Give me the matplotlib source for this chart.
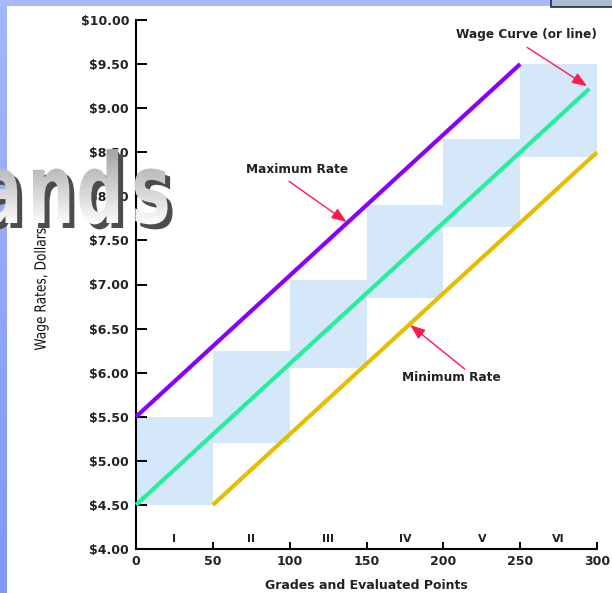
import numpy as np
import matplotlib
matplotlib.use('Agg')
import matplotlib.pyplot as plt
import matplotlib.patheffects as pe
from matplotlib.colors import to_rgba
from matplotlib.patches import Rectangle
from matplotlib.transforms import Affine2D, Bbox

# pay grades and the rate range of each grade
grade_labels = ['I', 'II', 'III', 'IV', 'V', 'VI']
grade_start = [0, 50, 100, 150, 200, 250]
grade_width = 50
range_low = [4.50, 5.20, 6.05, 6.85, 7.65, 8.45]
range_high = [5.50, 6.25, 7.05, 7.90, 8.65, 9.50]

# rate lines (points, dollars)
max_pts = [0, 250]
max_rate = [5.50, 9.50]
wage_pts = [0, 295]
wage_rate = [4.50, 9.22]
min_pts = [50, 300]
min_rate = [4.50, 8.50]

x_ticks = [0, 50, 100, 150, 200, 250, 300]
y_ticks = [4.0, 4.5, 5.0, 5.5, 6.0, 6.5, 7.0, 7.5, 8.0, 8.5, 9.0, 9.5, 10.0]


class Squeeze(pe.AbstractPathEffect):
    """Scale the glyphs about a pixel origin (no condensed font available),
    optionally filling them with a vertical grey ramp."""
    def __init__(self, sx, sy, origin, offset=(0, 0), face=None, shade=None):
        super().__init__()
        self.sx, self.sy = sx, sy
        self.origin = origin
        self.shift = offset
        self.face = to_rgba(face) if face is not None else None
        self.shade = shade

    def draw_path(self, renderer, gc, tpath, affine, rgbFace=None):
        x0, y0 = self.origin
        t = affine + Affine2D().translate(-x0, -y0).scale(self.sx, self.sy).translate(x0 + self.shift[0], y0 + self.shift[1])
        if self.shade is None:
            renderer.draw_path(gc, tpath, t, self.face if self.face is not None else rgbFace)
            return
        c_top, c_bot, y_top, y_bot = self.shade
        c_top, c_bot = np.array(to_rgba(c_top)), np.array(to_rgba(c_bot))
        n = 30
        edges = np.linspace(y_bot, y_top, n + 1)
        for i in range(n):
            lo = edges[i] if i > 0 else -1e4
            hi = edges[i+1] if i < n - 1 else 1e4
            f = (i + 0.5) / n
            g2 = renderer.new_gc()
            g2.copy_properties(gc)
            g2.set_clip_rectangle(Bbox([[-1e4, lo], [1e4, hi]]))
            renderer.draw_path(g2, tpath, t, tuple(c_bot + (c_top - c_bot) * f))
            g2.restore()


W, H = 612, 593
fig = plt.figure(figsize=(W/100, H/100), dpi=100)
fig.patch.set_facecolor('white')

# slide decoration: blue strips and the box in the corner
strip = fig.add_axes([0, 0, 7/W, 1])
strip.imshow(np.linspace(0, 1, 100).reshape(-1, 1),
             cmap=matplotlib.colors.LinearSegmentedColormap.from_list('s', ['#a4b6fc', '#7f97f6']),
             aspect='auto', extent=[0, 1, 0, 1])
strip.axis('off')
fig.patches.append(Rectangle((0, 1-6/H), 1, 6/H, transform=fig.transFigure, facecolor='#a8b9fc', edgecolor='none', zorder=0))
fig.patches.append(Rectangle((551/W, 1-7/H), 70/W, 10/H, transform=fig.transFigure, facecolor='#a9bfcf',
                             edgecolor='#1c2c4a', linewidth=1.2, zorder=1))

ax = fig.add_axes([136/W, 44/H, 461/W, 529/H])
ax.set_facecolor('none')

ax.bar(grade_start, np.array(range_high)-np.array(range_low), width=grade_width, bottom=range_low,
       align='edge', color='#d4e8fa', edgecolor='none', zorder=1)

ax.plot(max_pts, max_rate, color='#8a00ff', lw=3, solid_capstyle='butt', clip_on=False, zorder=3)
ax.plot(wage_pts, wage_rate, color='#26ee9a', lw=3, solid_capstyle='butt', clip_on=False, zorder=3)
ax.plot(min_pts, min_rate, color='#e6bd00', lw=3, solid_capstyle='butt', clip_on=False, zorder=3)

for x0, g in zip(grade_start, grade_labels):
    ax.text(x0 + grade_width/2, 4.11, g, ha='center', va='center', fontsize=8, fontweight='bold', color='#222222')

red = '#ff1a50'
aprops = dict(arrowstyle='-|>,head_length=0.9,head_width=0.35', color=red, lw=1, shrinkA=0, shrinkB=0)
note = dict(ha='center', va='center', fontsize=8.7, fontweight='bold', color='#222222')
ax.text(254, 9.83, 'Wage Curve (or line)', **note)
ax.annotate('', xy=(293.5, 9.25), xytext=(254.5, 9.69), arrowprops=aprops, annotation_clip=False)
ax.text(105, 8.31, 'Maximum Rate', **note)
ax.annotate('', xy=(137, 7.71), xytext=(99.6, 8.17), arrowprops=aprops)
ax.text(205, 5.94, 'Minimum Rate', **note)
ax.annotate('', xy=(178.5, 6.54), xytext=(214, 6.04), arrowprops=aprops)

ax.set_xlim(0, 300)
ax.set_ylim(4, 10)
ax.set_xticks(x_ticks)
ax.set_yticks(y_ticks)
ax.set_yticklabels(['$%.2f' % v for v in y_ticks])
ax.tick_params(axis='y', direction='in', length=8, width=1.4, pad=5, labelsize=9)
ax.tick_params(axis='x', direction='in', length=5, width=1.4, pad=4, labelsize=9)
for lab in ax.get_xticklabels() + ax.get_yticklabels():
    lab.set_fontweight('bold')
    lab.set_color('#222222')
for s in ['top', 'right']:
    ax.spines[s].set_visible(False)
for s in ['left', 'bottom']:
    ax.spines[s].set_linewidth(1.5)

ax.set_xlabel('Grades and Evaluated Points', fontsize=9, fontweight='bold', color='#222222', labelpad=8)

# y label, squeezed along its length to look like a narrow face
ylab_x, ylab_y = 41, 289
fig.text(ylab_x/W, 1-ylab_y/H, 'Wage Rates, Dollars', rotation=90, ha='center', va='center',
         fontsize=11, color='#111111',
         path_effects=[Squeeze(1.0, 0.8, (ylab_x, H-ylab_y))])

# slide title fragment: wide-tracked letters with drop shadow and grey ramp
ttl_y = 223
for ch, cx in zip('ands', [0, 51, 100, 151]):
    fig.text(cx/W, 1-ttl_y/H, ch, ha='center', va='baseline', fontsize=70, fontweight='bold',
             color='#dadada', zorder=10,
             path_effects=[Squeeze(0.68, 1.0, (cx, H-ttl_y), offset=(5, -5), face='#4c4c4c'),
                           Squeeze(0.68, 1.0, (cx, H-ttl_y),
                                   shade=('#a4a4a4', '#fbfbfb', H-150, H-223))])

fig.savefig('out.png', dpi=100)
